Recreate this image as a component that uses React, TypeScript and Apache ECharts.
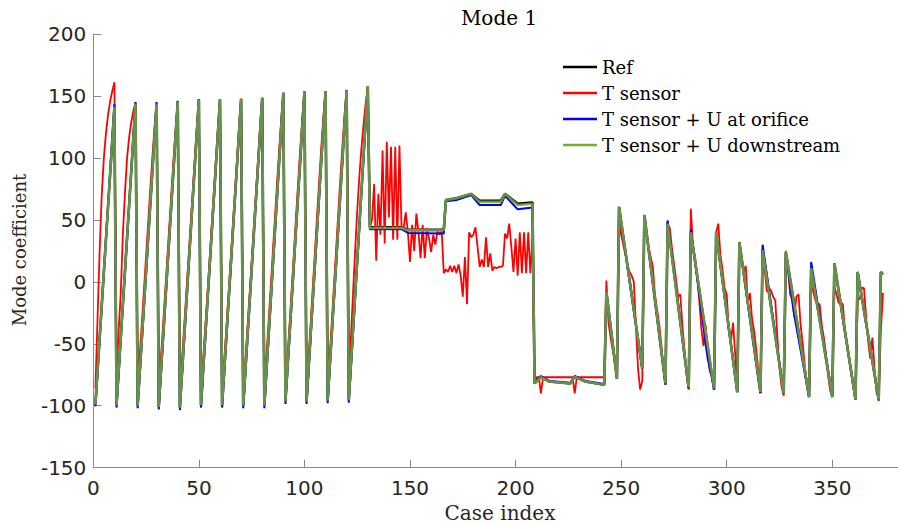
import React, { useEffect, useRef } from "react";
import * as echarts from "echarts";

const titleText = "Mode 1";
const xLabel = "Case index";
const yLabel = "Mode coefficient";
const names = ["Ref", "T sensor", "T sensor + U at orifice", "T sensor + U downstream"];
const colors = ["#000000", "#ff0000", "#0000ff", "#77ac30"];

// Reference: vertices [case index, value]
const refPts: number[][] = [
  [1, -99], [10, 141], [11, -99.5], [20, 144], [21, -100], [30, 144], [31, -101], [40, 145.5], [41, -101.5], [50, 147],
  [51, -99.5], [60, 147], [61, -99.5], [70, 147.5], [71, -100], [80, 148.5], [81, -100], [90, 152.5], [91, -96.5], [100, 153.5],
  [101, -96.5], [110, 154], [111, -96], [120, 154.5], [121, -95.5], [130, 158],
  [131, 44], [146, 44], [149, 42], [165, 42], [166, 42.5], [167, 66], [172, 67.5], [179, 71], [183, 65.5], [193, 65.5],
  [195, 71], [201, 63], [208, 64],
  [209, -82], [212, -77], [216, -80.5], [226, -82], [228, -76.5], [233, -80.5], [242, -83],
  [243, -8], [248, -78], [249, 60.5], [260, -70], [261, 54], [271, -83], [272, 48], [282, -86], [283, 40], [294, -87],
  [295, 40], [305, -89], [306, 32], [316, -90], [317, 26], [327, -90], [328, 24], [339, -93], [340, 11], [350, -93],
  [351, 15], [361, -95], [362, 8], [372, -95], [373, 8], [374, 6],
];

const greenPts: number[][] = [
  [1, -99], [10, 141], [11, -99.5], [20, 144], [21, -100], [30, 144], [31, -101], [40, 145.5], [41, -101.5], [50, 147],
  [51, -99.5], [60, 147], [61, -99.5], [70, 147.5], [71, -100], [80, 148.5], [81, -100], [90, 152.5], [91, -96.5], [100, 153.5],
  [101, -96.5], [110, 154], [111, -96], [120, 154.5], [121, -95.5], [130, 158],
  [131, 43.5], [146, 43.5], [149, 41.5], [165, 41.5], [166, 42], [167, 66], [172, 67.5], [179, 71], [183, 64.5], [193, 64.5],
  [195, 71], [201, 62], [208, 63],
  [209, -82], [212, -77], [216, -80.5], [226, -82], [228, -76.5], [233, -80.5], [242, -83],
  [243, -8], [248, -78], [249, 60.5], [260, -70], [261, 54], [271, -82], [272, 47], [282, -85], [283, 40], [294, -86],
  [295, 40], [305, -89], [306, 32], [316, -89], [317, 25.5], [327, -90], [328, 24], [339, -93], [340, 11], [350, -93],
  [351, 15], [361, -95], [362, 8], [372, -95], [373, 8], [374, 6],
];

const bluePts: number[][] = [
  [1, -100.5], [10, 143.5], [11, -101.5], [20, 145], [21, -102], [30, 145], [31, -103], [40, 146], [41, -103.5], [50, 147.5],
  [51, -101.5], [60, 147], [61, -101.5], [70, 147.5], [71, -102], [80, 148.5], [81, -102], [90, 152.5], [91, -98.5], [100, 153.5],
  [101, -98.5], [110, 154], [111, -98], [120, 154.5], [121, -97.5], [130, 157],
  [131, 42.5], [146, 42.5], [149, 39.5], [165, 39], [166, 39], [167, 65], [172, 66], [179, 70], [183, 62], [193, 62],
  [195, 69.5], [201, 58.5], [208, 60],
  [209, -81], [212, -76], [216, -80], [226, -81.5], [228, -76], [233, -80], [242, -82.5],
  [243, -9], [248, -78], [249, 59], [260, -70], [261, 53], [271, -82], [272, 49.5], [282, -85], [283, 42], [290, -50],
  [291, -62], [294, -86], [295, 39], [305, -89], [306, 31], [316, -89], [317, 30], [327, -90], [328, 23], [331, -15],
  [332, -27], [339, -93], [340, 16], [350, -93], [351, 14], [361, -95], [362, 8], [372, -96], [373, 7], [374, 6],
];

// T sensor, one value per case (1..374)
const redRamp = [
  -86, -30, 25, 70, 100, 120, 135, 146, 154, 161,
  -75, -40, -9, 38, 72, 100, 117, 129, 138, 145,
  -74, -58, -33, -6, 21, 48, 75, 101, 125, 145,
  -71, -62, -36, -9, 18, 45, 72, 99, 124, 146,
  -73, -63, -37, -10, 17, 44, 71, 98, 124, 147,
  -74, -63, -37, -11, 16, 43, 70, 97, 123, 147,
  -75, -63, -38, -11, 16, 43, 70, 97, 124, 148,
  -79, -64, -38, -11, 16, 44, 71, 98, 125, 148,
  -66, -60, -33, -5, 23, 51, 79, 106, 131, 152,
  -71, -61, -33, -5, 23, 52, 80, 107, 132, 153,
  -68, -60, -32, -3, 25, 54, 82, 109, 134, 154,
  -68, -59, -31, -2, 26, 55, 83, 110, 135, 155,
  -68, -45, -10, 25, 57, 85, 108, 127, 144, 157,
];
const redPlateau = [
  44, 50, 79, 17, 71, 38, 106, 31, 113, 52,
  109, 34, 109, 34, 110, 42, 44, 56, 40, 16,
  46, 25, 55, 40, 19, 46, 19, 43, 35, 24,
  38, 30, 41, 38, 41, 7, 10, 8, 13, 8,
  13, 7, 14, 5, -12, 20, -18, 40, 36, 38,
  44, 28, 12, 18, 12, 36, 12, 23, 9, 12,
  11, 12, 12, 13, 39, 35, 47, 28, 8, 35,
  5, 40, 7, 40, 7, 40, 7, 35,
];
const redLow = [
  -80, -77, -77, -90, -77, -77, -77, -77, -77, -77,
  -77, -77, -77, -77, -77, -77, -77, -77, -77, -90,
  -77, -77, -77, -77, -77, -77, -77, -77, -77, -77,
  -77, -77, -77, -77,
];
const redDecay = [
  1, -33, -45, -55, -65, -75,
  48, 38, 30, 22, 14, 8, 5, 0, -36, -70, -87, -80,
  50, 40, 28, 20, 12, -10, -22, -34, -50, -70, -82,
  44, 44, 28, 15, 2, -12, -10, -35, -55, -75, -87,
  59, 30, 20, 5, -15, -38, -52, -35, -55, -72, -76, -82,
  40, 47, 22, 10, -5, -10, -40, -48, -33, -58, -87,
  30, 20, 8, 13, -17, -9, -30, -40, -55, -72, -89,
  26, 10, -8, -5, -7, -12, -15, -45, -70, -85, -92,
  25, 12, -10, -14, -28, -12, -10, -35, -50, -68, -82, -93,
  -3, -8, -15, -18, -18, -35, -45, -58, -75, -88, -92,
  -4, -10, -17, -17, -18, -40, -52, -62, -72, -85, -94,
  -14, -14, -5, -5, -28, -48, -62, -45, -70, -90, -93,
  -40, -9,
];
const redAll = [...redRamp, ...redPlateau, ...redLow, ...redDecay];

export default function App() {
  const ref = useRef<HTMLDivElement>(null);
  useEffect(() => {
    if (!ref.current) return;
    const chart = echarts.init(ref.current, undefined, { renderer: "svg" });
    const redData = redAll.map((v, i) => [i + 1, v]);
    const datasets = [refPts, redData, bluePts, greenPts];
    const widths = [2.5, 1.8, 2, 2.6];
    const opac = [1, 1, 1, 0.85];
    const axisGrey = "#8a8a8a";
    chart.setOption({
      animation: false,
      grid: { left: 93.3, top: 34, right: 2.14, bottom: 56.3, containLabel: false },
      xAxis: {
        type: "value", min: 0, max: 400, interval: 50,
        axisLine: { show: true, onZero: false, lineStyle: { color: axisGrey, width: 1 } },
        axisTick: { show: true, inside: true, length: 8, lineStyle: { color: axisGrey } },
        axisLabel: {
          fontFamily: "DejaVu Sans", fontSize: 20, color: "#262626", margin: 10,
          showMaxLabel: false,
          formatter: (v: number) => (v > 380 ? "" : String(v)),
        },
        splitLine: { show: false },
      },
      yAxis: {
        type: "value", min: -150, max: 200, interval: 50,
        axisLine: { show: true, onZero: false, lineStyle: { color: axisGrey, width: 1 } },
        axisTick: { show: true, inside: true, length: 8, lineStyle: { color: axisGrey } },
        axisLabel: { fontFamily: "DejaVu Sans", fontSize: 20, color: "#262626", margin: 7 },
        splitLine: { show: false },
      },
      legend: {
        orient: "vertical", left: 563, top: 58, padding: 0,
        itemWidth: 34, itemHeight: 2.5, itemGap: 8, icon: "rect",
        data: names,
        textStyle: { fontFamily: "DejaVu Serif", fontSize: 18, color: "#000", lineHeight: 18 },
      },
      graphic: [
        { type: "text", x: 499, y: 17.5, style: { text: titleText, font: '20px "DejaVu Serif"', fill: "#000", textAlign: "center", textVerticalAlign: "middle", align: "center", verticalAlign: "middle" } },
        { type: "text", x: 500, y: 513, style: { text: xLabel, font: '20px "DejaVu Serif"', fill: "#262626", textAlign: "center", textVerticalAlign: "middle", align: "center", verticalAlign: "middle" } },
        { type: "text", x: 19, y: 250, rotation: Math.PI / 2, style: { text: yLabel, font: '18px "DejaVu Serif"', fill: "#262626", textAlign: "center", textVerticalAlign: "middle", align: "center", verticalAlign: "middle" } },
      ],
      series: names.map((n, i) => ({
        name: n, type: "line", data: datasets[i], symbol: "none", showSymbol: false,
        lineStyle: { color: colors[i], width: widths[i], opacity: opac[i] },
        itemStyle: { color: colors[i] },
        clip: true,
      })),
    });
    return () => chart.dispose();
  }, []);
  return (
    <div style={{ position: "absolute", left: 0, top: 0, width: 898, height: 524, overflow: "hidden" }}>
      <div ref={ref} style={{ width: 940, height: 524 }} />
    </div>
  );
}
